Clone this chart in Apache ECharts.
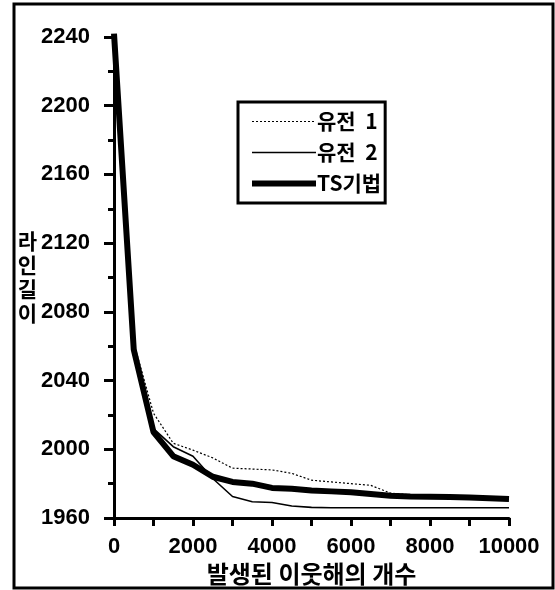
<!DOCTYPE html>
<html>
<head>
<meta charset="utf-8">
<script src="https://cdn.jsdelivr.net/npm/echarts@6/dist/echarts.min.js"></script>
<style>
  html, body { margin: 0; padding: 0; background: #fff; }
  #chart { width: 555px; height: 590px; }
</style>
</head>
<body>
<div id="chart"></div>
<script>
// 발생된 이웃해의 개수 (x)
const steps = [0, 500, 1000, 1500, 2000, 2500, 3000, 3500, 4000, 4500, 5000,
  5500, 6000, 6500, 7000, 7500, 8000, 8500, 9000, 9500, 10000];
// 라인길이 (y)
const gen1 = [2240, 2062, 2021, 2003.5, 1999.5, 1995, 1989, 1988.5, 1988, 1986, 1982,
  1981, 1980, 1979, 1974.5, 1973.5, 1973, 1972.5, 1972.3, 1972, 1971.5];
const gen2 = [2240, 2060, 2012, 2001.5, 1996, 1983, 1972.5, 1969.5, 1969, 1967, 1966.2,
  1966, 1966, 1966, 1966, 1966, 1966, 1966, 1966, 1966, 1966];
const ts = [2242, 2058, 2010, 1996, 1991, 1984, 1981, 1980, 1977.5, 1977, 1976,
  1975.5, 1975, 1974, 1973, 1972.5, 1972.4, 1972.2, 1972, 1971.5, 1971];
const seriesNames = ['유전  1', '유전  2', 'TS기법'];

const numFont = '"Liberation Sans", Arial, sans-serif';
const krFont = '"Noto Sans CJK KR", sans-serif';

function pairs(ys) {
  return steps.map((x, i) => [x, ys[i]]);
}

let chart = echarts.init(document.getElementById('chart'));

let option = {
  animation: false,
  backgroundColor: '#fff',
  graphic: [{
    type: 'rect',
    shape: { x: 14, y: 4, width: 539, height: 584 },
    style: { fill: 'none', stroke: '#000', lineWidth: 3 }
  }],
  grid: { left: 114, right: 46, top: 37, bottom: 72, outerBoundsMode: 'none', containLabel: false },
  legend: {
    orient: 'vertical',
    left: 238,
    top: 102,
    padding: [9, 4, 9, 11],
    itemWidth: 64,
    itemHeight: 14,
    itemGap: 10,
    borderColor: '#000',
    borderWidth: 3,
    borderRadius: 0,
    itemStyle: { opacity: 0 },
    lineStyle: { width: 'inherit' },
    textStyle: { fontFamily: krFont, fontWeight: 'bold', fontSize: 21, color: '#000', padding: [0, 0, 0, -4] },
    data: seriesNames
  },
  xAxis: {
    type: 'value',
    min: 0,
    max: 10000,
    interval: 2000,
    name: '발생된 이웃해의 개수',
    nameLocation: 'middle',
    nameMoveOverlap: false,
    nameGap: 44,
    nameTextStyle: { fontFamily: krFont, fontWeight: 'bold', fontSize: 24, color: '#000' },
    axisLine: { lineStyle: { color: '#000', width: 3 } },
    axisTick: { length: 8, lineStyle: { color: '#000', width: 3 } },
    minorTick: { show: true, splitNumber: 2, length: 8, lineStyle: { color: '#000', width: 3 } },
    axisLabel: {
      margin: 18, fontFamily: numFont, fontWeight: 'bold', fontSize: 22, color: '#000',
      formatter: v => String(v)
    },
    splitLine: { show: false }
  },
  yAxis: {
    type: 'value',
    min: 1960,
    max: 2240,
    interval: 40,
    name: '라\n인\n길\n이',
    nameLocation: 'middle',
    nameMoveOverlap: false,
    nameRotate: 0,
    nameGap: 77,
    nameTextStyle: { fontFamily: krFont, fontWeight: 'bold', fontSize: 21, lineHeight: 24, color: '#000', padding: [0, 0, 8, 0] },
    axisLine: { show: true, lineStyle: { color: '#000', width: 3 } },
    axisTick: { show: true, length: 10, lineStyle: { color: '#000', width: 3 } },
    minorTick: { show: true, splitNumber: 2, length: 6, lineStyle: { color: '#000', width: 3 } },
    axisLabel: {
      margin: 24, fontFamily: numFont, fontWeight: 'bold', fontSize: 22, color: '#000',
      formatter: v => String(v)
    },
    splitLine: { show: false }
  },
  series: [
    {
      name: seriesNames[0],
      type: 'line',
      symbol: 'none',
      clip: false,
      itemStyle: { color: '#000' },
      lineStyle: { color: '#000', width: 1.2, type: [2, 2] },
      data: pairs(gen1)
    },
    {
      name: seriesNames[1],
      type: 'line',
      symbol: 'none',
      clip: false,
      itemStyle: { color: '#000' },
      lineStyle: { color: '#000', width: 1.6 },
      data: pairs(gen2)
    },
    {
      name: seriesNames[2],
      type: 'line',
      symbol: 'none',
      clip: false,
      itemStyle: { color: '#000' },
      lineStyle: { color: '#000', width: 6 },
      data: pairs(ts)
    }
  ]
};

chart.setOption(option);
</script>
</body>
</html>
